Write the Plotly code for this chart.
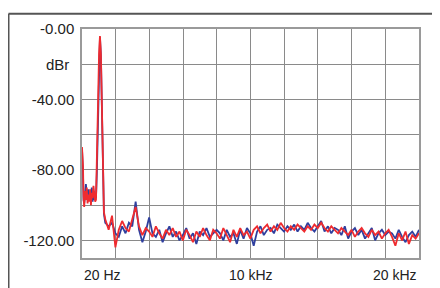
import plotly.graph_objects as go

freq_hz = [20, 50, 80, 110, 150, 200, 250, 300, 350, 400, 450, 500, 550, 600, 650, 700,
           750, 800, 850, 900, 940, 980, 1030, 1085, 1140, 1190, 1230, 1270, 1320, 1400,
           1600, 1800, 2000, 2200, 2400, 2600, 2800, 3000, 3200, 3400, 3600, 3800, 4000,
           4200, 4400, 4600, 4800, 5000, 5200, 5400, 5600, 5800, 6000, 6200, 6400, 6600,
           6800, 7000, 7200, 7400, 7600, 7800, 8000, 8200, 8400, 8600, 8800, 9000, 9200,
           9400, 9600, 9800, 10000, 10200, 10400, 10600, 10800, 11000, 11200, 11400, 11600,
           11800, 12000, 12200, 12400, 12600, 12800, 13000, 13200, 13400, 13600, 13800,
           14000, 14200, 14400, 14600, 14800, 15000, 15200, 15400, 15600, 15800, 16000,
           16200, 16400, 16600, 16800, 17000, 17200, 17400, 17600, 17800, 18000, 18200,
           18400, 18600, 18800, 19000, 19200, 19400, 19600, 19800, 20000]

red_dbr = [-67, -72, -78, -95, -101, -92, -97, -90, -99, -94, -98, -91, -100, -93, -96, -89,
           -95, -98, -97, -80, -62, -38, -14, -4, -14, -38, -66, -98, -104, -108,
           -114, -106, -124, -114, -109, -113, -115, -108, -101, -112, -117, -113, -115,
           -118, -112, -116, -119, -114, -117, -113, -118, -115, -120, -114, -117, -121,
           -115, -118, -113, -117, -120, -114, -116, -119, -113, -117, -121, -114, -118,
           -113, -117, -115, -119, -114, -112, -116, -113, -111, -115, -112, -114,
           -110, -113, -115, -112, -114, -111, -113, -115, -112, -114, -111,
           -113, -110, -113, -115, -112, -114, -116, -113, -115, -117, -114,
           -118, -115, -113, -116, -118, -114, -117, -115, -119, -116, -114,
           -118, -123, -116, -120, -115, -122, -117, -119, -116]

blue_dbr = [-68, -74, -82, -97, -99, -95, -88, -93, -96, -91, -97, -94, -96, -90, -98, -93,
            -97, -95, -96, -82, -63, -39, -15, -4.5, -15, -39, -67, -99, -105, -110,
            -112, -110, -116, -118, -112, -116, -110, -112, -98, -114, -121, -115, -107,
            -116, -118, -114, -121, -116, -112, -118, -115, -120, -117, -113, -119, -116,
            -122, -115, -117, -113, -118, -116, -114, -116, -120, -114, -118, -116, -122,
            -114, -119, -113, -116, -123, -115, -112, -117, -114, -113, -116, -111,
            -113, -115, -112, -114, -111, -115, -112, -114, -110, -113, -115,
            -112, -109, -115, -112, -116, -113, -114, -117, -112, -119, -115,
            -113, -117, -114, -119, -116, -113, -120, -116, -114, -117, -115,
            -116, -119, -114, -118, -121, -117, -115, -118, -114]

y_tick_vals = [0, -20, -40, -60, -80, -100, -120]
y_tick_text = ["-0.00", "", "-40.00", "", "-80.00", "", "-120.00"]

FONT = "Liberation Sans, Arial, sans-serif"

# page has an 8px body margin, so the figure is drawn at (8, 8)
W, H = 432, 280
L, R, T, B = 74, 21, 16, 30
PW, PH = W - L - R, H - T - B

fig = go.Figure()
fig.add_trace(go.Scatter(x=freq_hz, y=blue_dbr, mode="lines",
                         line=dict(color="#2f3f9e", width=1.8), showlegend=False))
fig.add_trace(go.Scatter(x=freq_hz, y=red_dbr, mode="lines",
                         line=dict(color="#ef2b2f", width=1.8), showlegend=False))

fig.update_layout(
    width=W, height=H,
    margin=dict(l=L, r=R, t=T, b=B),
    paper_bgcolor="white", plot_bgcolor="white",
    font=dict(family=FONT, color="#222"),
    xaxis=dict(range=[20, 20000], tick0=20, dtick=1998, showticklabels=False,
               showgrid=True, gridcolor="#8a8a8a", gridwidth=1, zeroline=False,
               showline=True, linecolor="#9a9a9a", linewidth=1.5, mirror=True, ticks=""),
    yaxis=dict(range=[-130, 0], tickmode="array", tickvals=y_tick_vals, ticktext=y_tick_text,
               showgrid=True, gridcolor="#8a8a8a", gridwidth=1, zeroline=False,
               showline=True, linecolor="#9a9a9a", linewidth=1.5, mirror=True, ticks="",
               tickfont=dict(size=15, color="#222", family=FONT), ticklabelstandoff=3),
)

fig.add_annotation(text="dBr", xref="paper", yref="y", x=-11 / PW, y=-20, xanchor="right",
                   yanchor="middle", showarrow=False, font=dict(size=15, color="#222", family=FONT))
fig.add_annotation(text="20 Hz", xref="x", yref="paper", x=20, y=-7 / PH, xanchor="left",
                   yanchor="top", showarrow=False, font=dict(size=14, color="#222", family=FONT))
fig.add_annotation(text="10 kHz", xref="x", yref="paper", x=10010, y=-7 / PH, xanchor="center",
                   yanchor="top", showarrow=False, font=dict(size=14, color="#222", family=FONT))
fig.add_annotation(text="20 kHz", xref="x", yref="paper", x=20000, y=-7 / PH, xanchor="right",
                   yanchor="top", showarrow=False, font=dict(size=14, color="#222", family=FONT))

# outer frame: left and top edges only
fx0 = (0.5 - L) / PW
fy1 = (PH + T - 0.5) / PH
fig.add_shape(type="line", xref="paper", yref="paper", x0=fx0, x1=fx0, y0=-(B + 10) / PH, y1=fy1,
              line=dict(color="#555", width=2), layer="below")
fig.add_shape(type="line", xref="paper", yref="paper", x0=fx0, x1=(W + 10 - L) / PW, y0=fy1, y1=fy1,
              line=dict(color="#555", width=2), layer="below")

fig.write_html("out.html")
